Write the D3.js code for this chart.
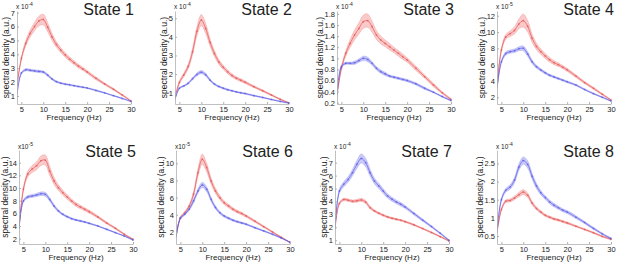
<!DOCTYPE html>
<html>
<head>
<meta charset="utf-8">
<script src="https://cdn.jsdelivr.net/npm/d3@7"></script>
<style>
body { margin: 0; background: #fff; }
text { font-family: "Liberation Sans", Arial, sans-serif; fill: #222; }
</style>
</head>
<body>
<div id="chart"></div>
<script>
// frequencies (Hz) shared by all states
var freqs = [4,5,6,7,8,9,10,11,12,13,14,15,16,17,18,19,20,22,24,26,28,30];

var xTicks = [5,10,15,20,25,30];

// state 1 (x 10^-4)
var s1Red    = [1.8,3.7,4.8,5.5,6.0,6.4,6.5,5.95,5.25,4.7,4.3,3.95,3.65,3.4,3.15,2.95,2.73,2.27,1.86,1.48,1.07,0.64];
var s1RedSE  = [0.05,0.12,0.2,0.25,0.3,0.35,0.38,0.33,0.25,0.2,0.18,0.16,0.15,0.14,0.13,0.12,0.11,0.1,0.08,0.07,0.05,0.04];
var s1Blue   = [1.1,2.65,2.88,2.85,2.8,2.77,2.72,2.5,2.22,2.03,1.92,1.85,1.8,1.74,1.68,1.63,1.57,1.4,1.22,1.02,0.82,0.6];
var s1BlueSE = [0.03,0.06,0.08,0.08,0.08,0.08,0.08,0.08,0.07,0.06,0.05,0.05,0.05,0.04,0.04,0.04,0.04,0.04,0.03,0.03,0.03,0.02];

// state 2 (x 10^-4)
var s2Red    = [0.73,1.55,1.95,2.4,3.2,4.3,4.9,4.45,3.7,3.1,2.65,2.36,2.12,1.92,1.78,1.67,1.56,1.32,1.1,0.87,0.64,0.45];
var s2RedSE  = [0.03,0.08,0.1,0.13,0.18,0.25,0.3,0.27,0.2,0.16,0.13,0.11,0.1,0.09,0.08,0.08,0.07,0.06,0.05,0.04,0.03,0.03];
var s2Blue   = [0.64,1.24,1.36,1.5,1.75,1.98,2.1,1.96,1.67,1.46,1.33,1.24,1.16,1.1,1.04,0.99,0.95,0.84,0.74,0.63,0.53,0.44];
var s2BlueSE = [0.02,0.04,0.04,0.05,0.06,0.08,0.09,0.08,0.06,0.05,0.04,0.04,0.04,0.03,0.03,0.03,0.03,0.03,0.02,0.02,0.02,0.02];

// state 3 (x 10^-4)
var s3Red    = [0.34,0.82,1.09,1.27,1.42,1.54,1.66,1.68,1.57,1.42,1.33,1.27,1.21,1.15,1.09,1.03,0.97,0.82,0.67,0.52,0.38,0.26];
var s3RedSE  = [0.01,0.03,0.05,0.07,0.09,0.1,0.12,0.12,0.1,0.08,0.07,0.06,0.06,0.05,0.05,0.05,0.04,0.04,0.03,0.03,0.02,0.02];
var s3Blue   = [0.34,0.85,0.91,0.91,0.92,0.96,1.0,0.98,0.91,0.82,0.76,0.72,0.68,0.66,0.64,0.62,0.6,0.54,0.46,0.39,0.31,0.24];
var s3BlueSE = [0.01,0.02,0.02,0.02,0.03,0.03,0.04,0.04,0.03,0.03,0.03,0.03,0.02,0.02,0.02,0.02,0.02,0.02,0.02,0.01,0.01,0.01];

// state 4 (x 10^-5)
var s4Red    = [3.3,7.8,9.4,9.8,10.2,11.0,11.4,10.7,9.25,8.24,7.6,7.07,6.6,6.25,6.0,5.7,5.37,4.6,3.8,3.1,2.37,1.67];
var s4RedSE  = [0.1,0.2,0.3,0.35,0.45,0.6,0.8,0.7,0.5,0.4,0.35,0.3,0.28,0.25,0.22,0.2,0.2,0.17,0.15,0.12,0.1,0.08];
var s4Blue   = [3.1,6.35,7.37,7.6,7.7,7.95,8.0,7.3,6.35,5.75,5.35,5.0,4.7,4.5,4.3,4.1,3.9,3.5,2.95,2.45,2.0,1.55];
var s4BlueSE = [0.1,0.15,0.2,0.2,0.22,0.25,0.3,0.28,0.22,0.18,0.15,0.14,0.13,0.12,0.11,0.1,0.1,0.09,0.08,0.07,0.06,0.05];

// state 5 (x 10^-5)
var s5Red    = [3.74,9.8,12.2,13.0,13.5,14.3,14.4,12.7,11.1,10.05,9.26,8.58,7.95,7.4,7.0,6.63,6.26,5.42,4.47,3.63,2.7,1.9];
var s5RedSE  = [0.1,0.3,0.45,0.55,0.6,0.75,0.8,0.7,0.55,0.45,0.4,0.35,0.32,0.3,0.28,0.26,0.25,0.2,0.17,0.14,0.1,0.08];
var s5Blue   = [3.47,7.95,8.58,8.74,8.9,9.1,9.0,8.2,7.16,6.37,5.84,5.47,5.16,4.95,4.8,4.63,4.42,4.0,3.47,2.95,2.42,1.79];
var s5BlueSE = [0.08,0.2,0.22,0.22,0.25,0.28,0.3,0.27,0.22,0.18,0.15,0.14,0.13,0.12,0.12,0.11,0.1,0.09,0.08,0.07,0.06,0.05];

// state 6 (x 10^-5)
var s6Red    = [1.53,3.67,4.25,5.0,6.4,8.9,10.47,9.5,7.94,6.78,6.0,5.4,5.03,4.64,4.37,4.14,3.86,3.25,2.62,2.0,1.38,0.78];
var s6RedSE  = [0.05,0.12,0.15,0.2,0.3,0.45,0.6,0.5,0.38,0.3,0.25,0.22,0.2,0.18,0.17,0.16,0.15,0.13,0.11,0.09,0.07,0.05];
var s6Blue   = [1.34,3.59,4.06,4.64,5.6,6.77,7.48,6.97,5.8,4.85,4.25,3.86,3.6,3.36,3.2,3.05,2.9,2.5,2.12,1.73,1.3,0.8];
var s6BlueSE = [0.04,0.1,0.12,0.15,0.2,0.25,0.3,0.28,0.22,0.18,0.15,0.13,0.12,0.11,0.1,0.1,0.09,0.08,0.07,0.06,0.05,0.04];

// state 7 (x 10^-4)
var s7Red    = [1.85,3.85,4.15,4.1,4.02,4.05,4.12,3.95,3.52,3.27,3.09,2.93,2.8,2.7,2.62,2.55,2.44,2.19,1.9,1.6,1.28,0.95];
var s7RedSE  = [0.04,0.08,0.1,0.1,0.1,0.11,0.12,0.12,0.1,0.09,0.08,0.08,0.07,0.07,0.07,0.06,0.06,0.06,0.05,0.05,0.04,0.04];
var s7Blue   = [1.98,4.8,5.33,5.7,6.23,6.87,7.33,7.0,6.23,5.58,5.2,4.8,4.42,4.17,3.96,3.78,3.57,3.06,2.55,2.06,1.54,1.0];
var s7BlueSE = [0.05,0.15,0.2,0.22,0.25,0.3,0.35,0.32,0.27,0.22,0.2,0.18,0.16,0.15,0.14,0.13,0.12,0.1,0.09,0.07,0.06,0.05];

// state 8 (x 10^-4)
var s8Red    = [0.59,1.23,1.46,1.48,1.55,1.64,1.71,1.62,1.41,1.26,1.16,1.07,1.02,0.97,0.94,0.9,0.86,0.77,0.68,0.59,0.49,0.41];
var s8RedSE  = [0.02,0.03,0.04,0.04,0.05,0.06,0.07,0.06,0.05,0.04,0.04,0.03,0.03,0.03,0.03,0.03,0.03,0.02,0.02,0.02,0.02,0.02];
var s8Blue   = [0.64,1.5,1.76,1.85,2.04,2.4,2.58,2.47,2.15,1.88,1.69,1.56,1.44,1.35,1.28,1.21,1.16,1.02,0.87,0.71,0.56,0.43];
var s8BlueSE = [0.02,0.04,0.05,0.06,0.07,0.09,0.1,0.1,0.08,0.07,0.06,0.05,0.05,0.05,0.04,0.04,0.04,0.04,0.03,0.03,0.02,0.02];

var titles    = ["State 1","State 2","State 3","State 4","State 5","State 6","State 7","State 8"];
var exponents = ["-4","-4","-4","-5","-5","-5","-4","-4"];
var yDomains  = [[0.42,7.12],[0.39,5.39],[0.177,1.854],[1.18,12.58],[1.16,16.0],[0.6,11.55],[0.71,7.98],[0.28,2.87]];
var yTicks    = [[1,2,3,4,5,6,7],[1,2,3,4,5],[0.2,0.4,0.6,0.8,1,1.2,1.4,1.6,1.8],[2,4,6,8,10,12],
                 [2,4,6,8,10,12,14],[2,4,6,8,10],[1,2,3,4,5,6,7],[0.5,1,1.5,2,2.5]];

var reds  = [s1Red,s2Red,s3Red,s4Red,s5Red,s6Red,s7Red,s8Red];
var redSE = [s1RedSE,s2RedSE,s3RedSE,s4RedSE,s5RedSE,s6RedSE,s7RedSE,s8RedSE];
var blues = [s1Blue,s2Blue,s3Blue,s4Blue,s5Blue,s6Blue,s7Blue,s8Blue];
var blueSE = [s1BlueSE,s2BlueSE,s3BlueSE,s4BlueSE,s5BlueSE,s6BlueSE,s7BlueSE,s8BlueSE];

// layout of the 2x4 grid
var W = 617, H = 262;
var colLeft = [[17,175,337,497],[19,176,335,497]];
var rowTop = [11,150], rowBottom = [104,244];
var plotW = 114;
var titleY = [14.5,157], expoY = [8.5,148.5];

var svg = d3.select("#chart").append("svg")
    .attr("width", W).attr("height", H);

var styles = {
  red:  {fill:"rgb(244,128,128)", edge:"rgb(236,110,110)", line:"rgb(226,70,70)"},
  blue: {fill:"rgb(130,130,242)", edge:"rgb(112,112,236)", line:"rgb(80,80,226)"}
};

var fmt = d3.format("~g");

function drawSeries(g, x, y, vals, se, st) {
  var pts = freqs.map(function(f,i){ return {f:f, m:vals[i], s:se[i]}; });
  var area = d3.area()
      .x(function(d){ return x(d.f); })
      .y0(function(d){ return y(d.m - d.s); })
      .y1(function(d){ return y(d.m + d.s); })
      .curve(d3.curveCatmullRom);
  g.append("path").attr("d", area(pts))
      .attr("fill", st.fill).attr("fill-opacity", 0.42)
      .attr("stroke", st.edge).attr("stroke-opacity", 0.45).attr("stroke-width", 0.6);
  var line = d3.line()
      .x(function(d){ return x(d.f); })
      .y(function(d){ return y(d.m); })
      .curve(d3.curveCatmullRom);
  g.append("path").attr("d", line(pts))
      .attr("fill", "none").attr("stroke", st.line)
      .attr("stroke-opacity", 0.7).attr("stroke-width", 0.9);
  g.selectAll(null).data(pts.slice(1)).enter().append("circle")
      .attr("cx", function(d){ return x(d.f); })
      .attr("cy", function(d){ return y(d.m); })
      .attr("r", 1)
      .attr("fill", st.line).attr("fill-opacity", 0.55);
}

titles.forEach(function(t, k) {
  var row = Math.floor(k/4), col = k % 4;
  var left = colLeft[row][col], top = rowTop[row], bottom = rowBottom[row];
  var h = bottom - top;

  var x = d3.scaleLinear().domain([4,30]).range([0, plotW]);
  var y = d3.scaleLinear().domain(yDomains[k]).range([h, 0]);

  var g = svg.append("g").attr("transform", "translate(" + left + "," + top + ")");

  var clip = "clip" + k;
  g.append("clipPath").attr("id", clip).append("rect")
      .attr("x", 0).attr("y", 0).attr("width", plotW + 2).attr("height", h);
  var plot = g.append("g").attr("clip-path", "url(#" + clip + ")");

  drawSeries(plot, x, y, reds[k], redSE[k], styles.red);
  drawSeries(plot, x, y, blues[k], blueSE[k], styles.blue);

  var xAxis = g.append("g").attr("transform", "translate(0," + h + ")")
      .call(d3.axisBottom(x).tickValues(xTicks).tickFormat(fmt).tickSize(-2).tickSizeOuter(0).tickPadding(3));
  var yAxis = g.append("g")
      .call(d3.axisLeft(y).tickValues(yTicks[k]).tickFormat(fmt).tickSize(-2).tickSizeOuter(0).tickPadding(2));

  [xAxis, yAxis].forEach(function(a){
    a.select(".domain").attr("stroke", "#b0b0b0").attr("stroke-width", 0.8);
    a.selectAll(".tick line").attr("stroke", "#b0b0b0");
    a.selectAll("text").attr("font-size", "7.5px").attr("fill", "#222")
      .attr("font-family", "'Liberation Sans', Arial, sans-serif");
  });
  xAxis.selectAll("text").attr("dy", "0.7em");

  // y label placed left of the tick labels
  var bb = yAxis.node().getBBox();
  var lx = Math.max(bb.x - 2, 8 - left);
  g.append("text")
      .attr("transform", "translate(" + lx + "," + (h/2) + ") rotate(-90)")
      .attr("text-anchor", "middle")
      .attr("font-size", "8.5px")
      .text("spectral density (a.u.)");

  g.append("text")
      .attr("x", plotW/2).attr("y", h + 16)
      .attr("text-anchor", "middle")
      .attr("font-size", "8px")
      .text("Frequency (Hz)");

  // exponent label
  var ex = g.append("text")
      .attr("x", -1).attr("y", expoY[row] - top)
      .attr("font-size", "6.5px");
  ex.append("tspan").text(k === 4 || k === 5 ? "x10" : "x 10");
  ex.append("tspan").attr("dy", -3).attr("font-size", "5px").text(exponents[k]);

  g.append("text")
      .attr("x", plotW + 3).attr("y", titleY[row] - top)
      .attr("text-anchor", "end")
      .attr("font-size", "16px")
      .text(t);
});
</script>
</body>
</html>
